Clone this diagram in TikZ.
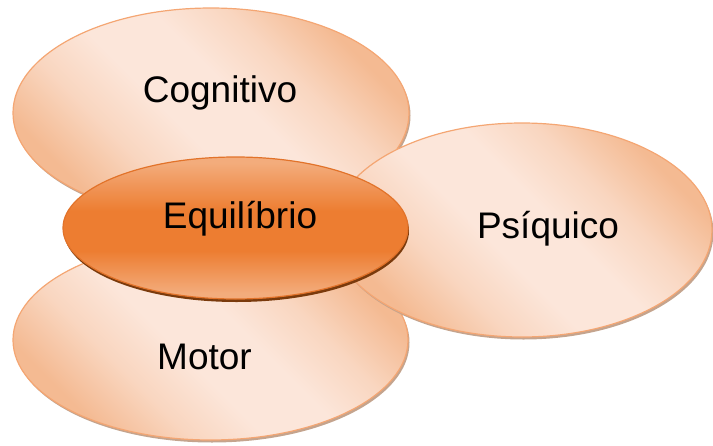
\documentclass[tikz,border=0pt]{standalone}
\usepackage{fontspec}
\setmainfont{Liberation Sans}
\usetikzlibrary{shapes.geometric,shadows}
\definecolor{peachA}{HTML}{F4BA92}
\definecolor{peachC}{HTML}{F9D6C0}
\definecolor{peachB}{HTML}{FCE6DA}
\definecolor{peachLine}{HTML}{F4A673}
\definecolor{peachShadow}{HTML}{C4A48E}
\definecolor{oraMid}{HTML}{ED7D31}
\definecolor{oraEdge}{HTML}{F3AC7C}
\definecolor{oraLine}{HTML}{E2732A}
\definecolor{oraShadow}{HTML}{7A3A0C}
\pgfdeclareverticalshading{peachy}{100bp}{color(0bp)=(peachA); color(26bp)=(peachA); color(36bp)=(peachC); color(45bp)=(peachB); color(55bp)=(peachB); color(64bp)=(peachC); color(74bp)=(peachA); color(100bp)=(peachA)}
\pgfdeclareverticalshading{orangy}{100bp}{color(0bp)=(oraEdge); color(27bp)=(oraEdge); color(42bp)=(oraMid); color(56bp)=(oraMid); color(73bp)=(oraEdge); color(100bp)=(oraEdge)}
\begin{document}
\begin{tikzpicture}[x=1pt,y=-1pt,
  bubble/.style={ellipse, draw=peachLine, line width=1.2pt, inner sep=0pt, outer sep=0pt,
    shading=peachy, shading angle=135,
    drop shadow={shadow xshift=1.5pt, shadow yshift=-2.5pt, fill=peachShadow, opacity=1}},
  core/.style={ellipse, draw=oraLine, line width=1.2pt, inner sep=0pt, outer sep=0pt,
    shading=orangy,
    drop shadow={shadow xshift=1pt, shadow yshift=-3pt, fill=oraShadow, opacity=1}},
  lbl/.style={font=\fontsize{37}{44}\selectfont, anchor=base, inner sep=0pt}]
\useasboundingbox (0,0) rectangle (713,445);
\node[bubble, minimum width=396pt, minimum height=210pt] (cog) at (211,113) {};
\node[bubble, minimum width=395pt, minimum height=200pt] (mot) at (210.5,340) {};
\node[bubble, minimum width=380pt, minimum height=214pt] (psi) at (522,230) {};
\node[core, minimum width=345pt, minimum height=142pt] (equ) at (235.5,228) {};
\node[lbl] (tcog) at (220,102) {Cognitivo};
\node[lbl] (tmot) at (204.5,369) {Motor};
\node[lbl] (tpsi) at (548,238) {Psíquico};
\node[lbl] (tequ) at (240,228) {Equilíbrio};
\end{tikzpicture}
\end{document}
